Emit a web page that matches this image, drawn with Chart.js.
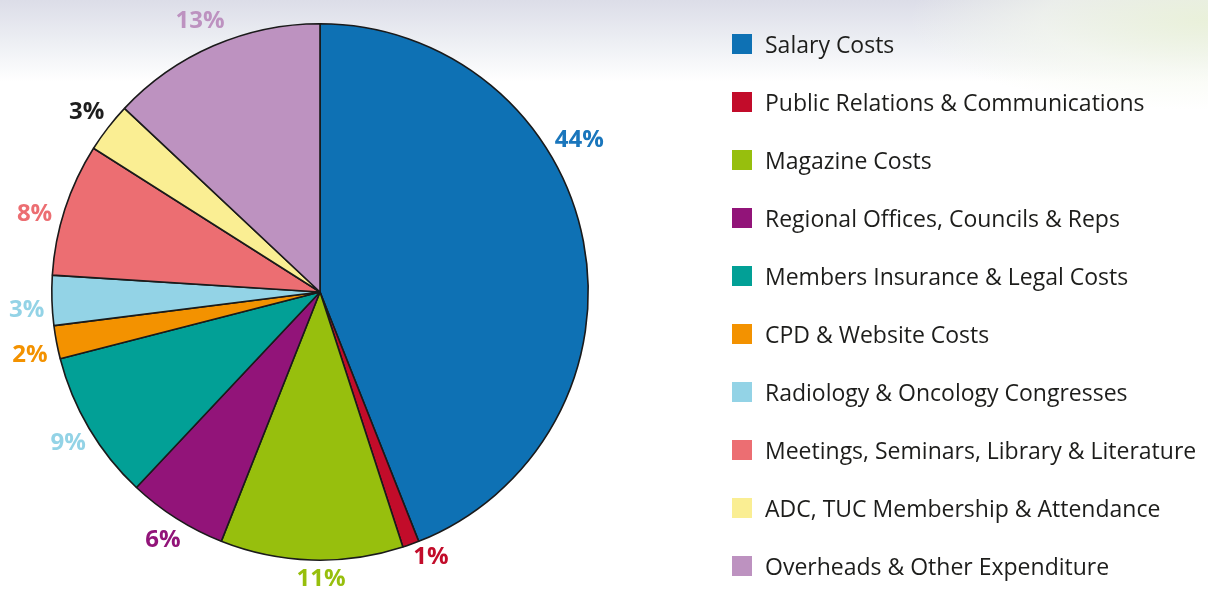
<!DOCTYPE html>
<html>
<head>
<meta charset="utf-8">
<script src="https://cdn.jsdelivr.net/npm/chart.js@4.4.1/dist/chart.umd.min.js"></script>
<style>
  html, body { margin: 0; padding: 0; }
  body {
    width: 1208px; height: 592px; overflow: hidden; position: relative;
    background:
      radial-gradient(ellipse 300px 90px at 1208px 20px, rgba(234,242,216,0.9) 0%, rgba(244,248,236,0.6) 55%, rgba(255,255,255,0) 100%),
      linear-gradient(to bottom, #dcdde8 0px, #eceef3 40px, #ffffff 82px, #ffffff 592px);
  }
  #wrap { position: absolute; left: 0; top: 0; width: 1208px; height: 592px; }
</style>
</head>
<body>
<div id="wrap"><canvas id="c" width="1208" height="592"></canvas></div>
<script>
// ---- data ----
const categories = [
  "Salary Costs",
  "Public Relations & Communications",
  "Magazine Costs",
  "Regional Offices, Councils & Reps",
  "Members Insurance & Legal Costs",
  "CPD & Website Costs",
  "Radiology & Oncology Congresses",
  "Meetings, Seminars, Library & Literature",
  "ADC, TUC Membership & Attendance",
  "Overheads & Other Expenditure"
];
const shares = [44, 1, 11, 6, 9, 2, 3, 8, 3, 13];
const valueLabels = ["44%", "1%", "11%", "6%", "9%", "2%", "3%", "8%", "3%", "13%"];

// ---- styles ----
const sliceColors = ["#0e71b4", "#c20c2a", "#97bf0d", "#921479", "#02a096",
                     "#f39200", "#93d3e6", "#ec6e72", "#faee93", "#bd92c0"];
const labelColors = ["#1a76bc", "#c20c2a", "#97bf0d", "#921479", "#93d3e6",
                     "#f39200", "#93d3e6", "#ec6e72", "#1e1e1e", "#bd92c0"];
const labelAngleShift = [-19.8, -3, -2, 0, -0.2, -1.3, -1.5, -2.5, 0, -0.4]; // degrees
const labelRadiusAdd = [33, 18, 18, 25, 25, 28.5, 25.5, 28, 27, 29];

const FONT = "'Open Sans', 'Noto Sans', sans-serif";

const outerLabels = {
  id: 'outerLabels',
  afterDatasetsDraw(chart) {
    const ctx = chart.ctx;
    const meta = chart.getDatasetMeta(0);
    ctx.save();
    ctx.font = "bold 24px " + FONT;
    ctx.textAlign = 'center';
    ctx.textBaseline = 'middle';
    meta.data.forEach((arc, i) => {
      const p = arc.getProps(['x', 'y', 'startAngle', 'endAngle', 'outerRadius'], true);
      const mid = (p.startAngle + p.endAngle) / 2 + labelAngleShift[i] * Math.PI / 180;
      const r = p.outerRadius + labelRadiusAdd[i];
      ctx.fillStyle = labelColors[i];
      ctx.fillText(valueLabels[i], p.x + Math.cos(mid) * r, p.y + Math.sin(mid) * r + 1);
    });
    ctx.restore();
  }
};

const sideLegend = {
  id: 'sideLegend',
  afterDraw(chart) {
    const ctx = chart.ctx;
    const labels = chart.data.labels;
    const colors = chart.data.datasets[0].backgroundColor;
    const x0 = 732, y0 = 44, step = 58, box = 20;
    ctx.save();
    ctx.font = "23px " + FONT;
    ctx.textAlign = 'left';
    ctx.textBaseline = 'middle';
    labels.forEach((lab, i) => {
      const y = y0 + i * step;
      ctx.fillStyle = colors[i];
      ctx.fillRect(x0, y - box / 2, box, box);
      ctx.fillStyle = '#1d1d1b';
      ctx.fillText(lab, x0 + 33, y + 2);
    });
    ctx.restore();
  }
};

new Chart(document.getElementById('c'), {
  type: 'pie',
  data: {
    labels: categories,
    datasets: [{
      data: shares,
      backgroundColor: sliceColors,
      borderColor: '#1a1a1a',
      borderWidth: 1.6,
      borderAlign: 'center'
    }]
  },
  options: {
    responsive: false,
    animation: false,
    layout: { padding: { left: 51, right: 619, top: 23, bottom: 31 } },
    plugins: {
      legend: { display: false },
      tooltip: { enabled: false }
    }
  },
  plugins: [outerLabels, sideLegend]
});
</script>
</body>
</html>
